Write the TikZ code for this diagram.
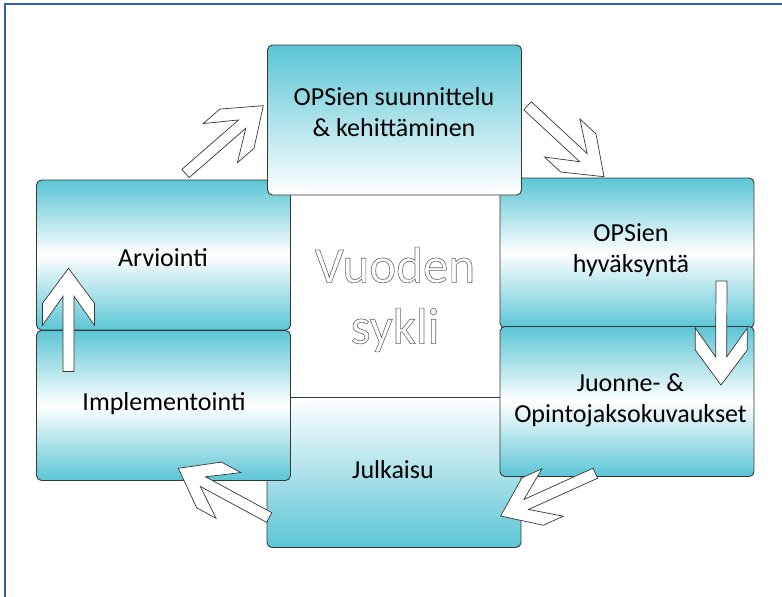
\documentclass[tikz,border=0pt]{standalone}
\usepackage{fontspec}
\setmainfont{Carlito}
\usetikzlibrary{calc}
\usepackage{xcolor}

\definecolor{aqua}{RGB}{91,197,213}
\definecolor{framebl}{RGB}{47,94,172}
\definecolor{edgegray}{RGB}{55,55,55}

\tikzset{
  cyclebox/.style={rectangle, rounded corners=5pt, draw=edgegray, line width=0.9pt,
    minimum width=254pt, minimum height=150pt, inner sep=0pt},
  midshade/.style={top color=aqua, bottom color=aqua, middle color=white},
  boxtext/.style={align=center, font=\fontsize{26}{31}\selectfont},
  flowarr/.style={draw=edgegray, fill=white, line width=0.7pt, line join=miter},
}

% outlined letters
\newcommand{\hollow}{\special{pdf:literal direct 1 Tr 0.6 w}}

% block arrow: #1 tail, #2 tip
\newcommand{\flowarrow}[2]{%
  \draw[flowarr] (#2)
    -- ($(#2)!35pt!(#1)!26pt!90:(#2)$)
    -- ($(#2)!57pt!(#1)!26pt!90:(#2)$)
    -- ($(#2)!28pt!(#1)!5.5pt!90:(#2)$)
    -- ($(#1)!5.5pt!90:(#2)$)
    -- ($(#1)!5.5pt!-90:(#2)$)
    -- ($(#2)!28pt!(#1)!5.5pt!-90:(#2)$)
    -- ($(#2)!57pt!(#1)!26pt!-90:(#2)$)
    -- ($(#2)!35pt!(#1)!26pt!-90:(#2)$)
    -- cycle;}

\begin{document}
\begin{tikzpicture}[x=1pt, y=-1pt]
\useasboundingbox (0,0) rectangle (782,597);

%frame
\draw[framebl, line width=2pt] (4.5,597) -- (4.5,3.5) -- (782,3.5);

%boxes
\node[cyclebox, top color=white, bottom color=aqua] (julkaisu) at (394,472.5) {};
\node[cyclebox, midshade] (arviointi) at (163.5,255) {};
\node[cyclebox, midshade] (implementointi) at (163.5,405.5) {};
\node[cyclebox, midshade] (hyvaksynta) at (627,253) {};
\node[cyclebox, midshade] (juonne) at (627,401.5) {};
\node[cyclebox, top color=aqua, bottom color=white] (suunnittelu) at (394.5,120) {};

%labels
\node[boxtext] (t-suun) at (394,112) {OPSien suunnittelu\\\& kehittäminen};
\node[boxtext] (t-hyv) at (631,250) {OPSien\\hyväksyntä};
\node[boxtext] (t-juon) at (630.5,400) {Juonne- \&\\Opintojaksokuvaukset};
\node[boxtext] (t-julk) at (393,470) {Julkaisu};
\node[boxtext] (t-impl) at (164,403.5) {Implementointi};
\node[boxtext] (t-arv) at (163,258) {Arviointi};
\node[align=center, text=black!60, font=\fontsize{51}{61}\selectfont] (sykli) at (395,299.5)
  {\hollow Vuoden\\\hollow sykli};

%arrows
\coordinate (a1-from) at (185.5,173.5); \coordinate (a1-to) at (263.3,105.7);
\coordinate (a2-from) at (527.5,105.8); \coordinate (a2-to) at (604,176.7);
\coordinate (a3-from) at (721.5,281);   \coordinate (a3-to) at (721,385);
\coordinate (a4-from) at (595.3,473.2); \coordinate (a4-to) at (500.7,516);
\coordinate (a5-from) at (269.2,517.5); \coordinate (a5-to) at (178.3,468.3);
\coordinate (a6-from) at (68.5,371.5);  \coordinate (a6-to) at (68.5,268.3);

\flowarrow{a1-from}{a1-to}
\flowarrow{a2-from}{a2-to}
\flowarrow{a3-from}{a3-to}
\flowarrow{a4-from}{a4-to}
\flowarrow{a5-from}{a5-to}
\flowarrow{a6-from}{a6-to}

\end{tikzpicture}
\end{document}
